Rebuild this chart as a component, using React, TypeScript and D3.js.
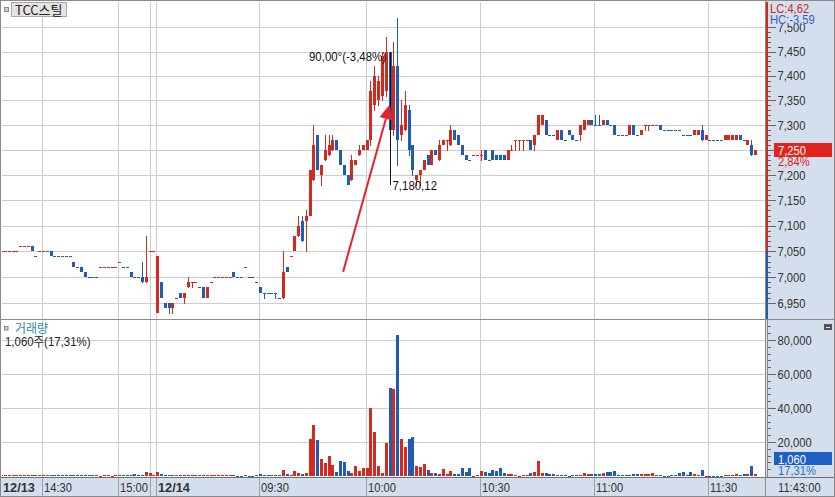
import React from 'react';
import * as d3 from 'd3';

type Bar = [number, number, number, number]; // open, high, low, close

// 1-minute bars: 12/13 afternoon (0-40) then 12/14 morning (41-198)
const candles: Bar[] = [
  [7050, 7050, 7050, 7050], [7050, 7050, 7050, 7050], [7050, 7050, 7050, 7050], [7050, 7050, 7050, 7050], [7050, 7050, 7050, 7050], // 0-4
  [7060, 7060, 7060, 7060], [7060, 7060, 7060, 7060], [7060, 7060, 7060, 7060], // 5-7
  [7060, 7060, 7050, 7050], [7040, 7040, 7040, 7040], // 8-9
  [7050, 7050, 7050, 7050], [7050, 7050, 7050, 7050], [7050, 7050, 7050, 7050], // 10-12
  [7050, 7050, 7040, 7040], // 13
  [7040, 7040, 7040, 7040], [7040, 7040, 7040, 7040], [7040, 7040, 7040, 7040], [7040, 7040, 7040, 7040], [7040, 7040, 7040, 7040], // 14-18
  [7030, 7030, 7020, 7020], [7020, 7020, 7020, 7020], [7020, 7020, 7010, 7010], [7010, 7010, 7000, 7000], // 19-22
  [7000, 7000, 7000, 7000], [7000, 7000, 7000, 7000], [7000, 7000, 7000, 7000], // 23-25
  [7020, 7020, 7020, 7020], [7020, 7020, 7020, 7020], [7020, 7020, 7020, 7020], [7020, 7020, 7020, 7020], [7020, 7020, 7020, 7020], // 26-30
  [7030, 7030, 7030, 7030], [7020, 7020, 7020, 7020], [7020, 7020, 7020, 7020], // 31-33
  [7010, 7010, 7000, 7000], [7000, 7000, 7000, 7000], [7000, 7000, 7000, 7000], // 34-36
  [7000, 7030, 6990, 6990], [6990, 7080, 6990, 7000], // 37-38
  [7050, 7050, 7050, 7050], [7050, 7050, 7050, 7050], // 39-40
  [6930, 7040, 6930, 7040], [6990, 6990, 6960, 6960], [6950, 6950, 6940, 6940], [6950, 6950, 6930, 6940], // 41-44
  [6940, 6950, 6930, 6950], [6960, 6960, 6960, 6960], [6970, 6970, 6960, 6960], [6960, 6970, 6950, 6970], // 45-48
  [6980, 7000, 6980, 6990], [6990, 6990, 6980, 6990], [6990, 6990, 6990, 6990], [6980, 6980, 6980, 6980], // 49-52
  [6980, 6980, 6960, 6960], [6960, 6980, 6960, 6980], [6990, 6990, 6990, 6990], // 53-55
  [7000, 7000, 7000, 7000], [7000, 7000, 7000, 7000], [7000, 7000, 7000, 7000], [7000, 7000, 7000, 7000], [7000, 7000, 7000, 7000], // 56-60
  [7010, 7010, 7000, 7000], [7000, 7000, 7000, 7000], [7000, 7000, 7000, 7000], [7020, 7020, 7020, 7020], // 61-64
  [7000, 7000, 7000, 7000], [7000, 7000, 7000, 7000], [6990, 6990, 6990, 6990], // 65-67
  [6980, 6980, 6970, 6970], [6970, 6970, 6960, 6970], [6970, 6970, 6970, 6970], [6970, 6970, 6970, 6970], // 68-71
  [6970, 6970, 6960, 6970], [6960, 6960, 6960, 6960], // 72-73
  [6960, 7050, 6960, 7010], [7020, 7020, 7010, 7010], [7040, 7040, 7040, 7040], [7050, 7080, 7050, 7080], // 74-77
  [7080, 7120, 7080, 7100], [7110, 7120, 7070, 7070], [7110, 7130, 7050, 7120], [7120, 7210, 7120, 7210], // 78-81
  [7190, 7300, 7190, 7260], [7280, 7280, 7210, 7210], [7200, 7220, 7180, 7220], [7230, 7280, 7230, 7250], // 82-85
  [7240, 7280, 7240, 7260], [7250, 7280, 7250, 7270], [7270, 7270, 7250, 7250], [7250, 7250, 7220, 7220], // 86-89
  [7220, 7220, 7200, 7200], [7200, 7200, 7180, 7180], [7190, 7240, 7190, 7230], [7220, 7230, 7220, 7230], // 90-93
  [7240, 7260, 7240, 7250], [7250, 7260, 7250, 7260], [7250, 7270, 7250, 7270], // 94-96
  [7270, 7390, 7260, 7370], [7340, 7420, 7330, 7400], [7350, 7400, 7340, 7390], [7360, 7450, 7350, 7440], // 97-100
  [7370, 7480, 7360, 7450], [7450, 7450, 7280, 7290], [7290, 7470, 7280, 7420], [7420, 7520, 7220, 7270], // 101-104
  [7280, 7350, 7270, 7300], [7290, 7370, 7290, 7340], [7330, 7340, 7240, 7250], [7260, 7260, 7200, 7210], // 105-108
  [7190, 7200, 7180, 7200], [7200, 7210, 7180, 7210], [7210, 7230, 7210, 7230], [7240, 7240, 7220, 7220], // 109-112
  [7220, 7250, 7220, 7250], [7250, 7250, 7240, 7240], [7230, 7270, 7230, 7260], [7260, 7270, 7260, 7270], // 113-116
  [7270, 7270, 7250, 7270], [7260, 7300, 7260, 7290], [7290, 7290, 7270, 7270], [7280, 7280, 7260, 7260], // 117-120
  [7260, 7260, 7240, 7240], [7240, 7240, 7230, 7230], [7230, 7230, 7230, 7230], [7240, 7240, 7240, 7240], // 121-124
  [7240, 7240, 7240, 7240], [7240, 7250, 7230, 7240], [7250, 7250, 7230, 7230], [7230, 7230, 7230, 7230], // 125-128
  [7250, 7250, 7230, 7230], [7240, 7240, 7230, 7230], [7240, 7240, 7230, 7230], [7240, 7240, 7230, 7230], // 129-132
  [7230, 7250, 7230, 7250], [7250, 7260, 7250, 7250], [7270, 7270, 7250, 7270], [7270, 7270, 7250, 7270], // 133-136
  [7270, 7270, 7250, 7270], [7270, 7270, 7270, 7270], [7270, 7270, 7250, 7250], [7260, 7280, 7250, 7280], // 137-140
  [7280, 7320, 7280, 7320], [7300, 7320, 7300, 7320], [7310, 7310, 7280, 7280], [7280, 7280, 7280, 7280], // 141-144
  [7280, 7280, 7280, 7280], [7270, 7290, 7270, 7290], [7290, 7290, 7270, 7270], [7270, 7270, 7270, 7270], // 145-148
  [7290, 7290, 7280, 7280], [7280, 7280, 7270, 7270], [7270, 7270, 7270, 7270], [7280, 7300, 7270, 7300], // 149-152
  [7290, 7310, 7290, 7310], [7300, 7310, 7300, 7310], [7310, 7310, 7300, 7300], [7300, 7320, 7300, 7300], // 153-156
  [7300, 7320, 7300, 7300], [7300, 7310, 7300, 7310], [7310, 7310, 7300, 7300], [7300, 7300, 7300, 7300], // 157-160
  [7300, 7300, 7280, 7280], [7280, 7280, 7280, 7280], [7280, 7280, 7280, 7280], [7280, 7280, 7280, 7280], // 161-164
  [7280, 7300, 7280, 7300], [7300, 7300, 7280, 7280], [7280, 7280, 7280, 7280], [7280, 7290, 7280, 7290], // 165-168
  [7300, 7300, 7290, 7300], [7300, 7300, 7290, 7300], [7300, 7300, 7300, 7300], [7300, 7300, 7300, 7300], // 169-172
  [7300, 7300, 7290, 7290], [7290, 7290, 7290, 7290], [7290, 7290, 7290, 7290], [7290, 7290, 7290, 7290], // 173-176
  [7290, 7290, 7290, 7290], [7290, 7290, 7290, 7290], [7280, 7280, 7280, 7280], [7280, 7280, 7280, 7280], // 177-180
  [7280, 7280, 7280, 7280], [7280, 7290, 7280, 7290], [7280, 7290, 7280, 7290], [7290, 7300, 7270, 7270], // 181-184
  [7270, 7280, 7270, 7280], [7270, 7270, 7270, 7270], [7270, 7270, 7270, 7270], [7270, 7270, 7270, 7270], // 185-188
  [7270, 7270, 7270, 7270], [7270, 7280, 7270, 7280], [7270, 7280, 7270, 7280], [7270, 7280, 7270, 7280], // 189-192
  [7270, 7280, 7270, 7280], [7280, 7280, 7270, 7270], [7270, 7270, 7270, 7270], [7260, 7270, 7260, 7270], // 193-196
  [7260, 7270, 7240, 7240], [7240, 7250, 7240, 7250], // 197-198
];

const volumes: number[] = [
  500, 300, 300, 400, 300, 600, 300, 300, 700, 400, 300, 300, 300, 800, 300, 300, 300, 300, 300, 600, // 0-19
  300, 500, 600, 300, 300, 300, 200, 300, 300, 200, 300, 300, 300, 300, 400, 1200, 300, 600, 2500, 1500, // 20-39
  300, 2400, 1200, 800, 600, 800, 300, 500, 600, 800, 300, 300, 300, 600, 600, 300, 300, 300, 300, 300, // 40-59
  300, 400, 200, 200, 300, 200, 200, 300, 1200, 300, 300, 300, 300, 300, 3500, 1200, 600, 2900, 1500, 1200, // 60-79
  1800, 22000, 30000, 21000, 10000, 7800, 11700, 6500, 2500, 8800, 8400, 3100, 1800, 6000, 3100, 4500, 4500, 39800, 26000, 6000, // 80-99
  2000, 19600, 51600, 51000, 83000, 21800, 16900, 21800, 22700, 5900, 5500, 7100, 3500, 1600, 1600, 1200, 4100, 1200, 2900, 1200, // 100-119
  1200, 4500, 2500, 4500, 200, 600, 2900, 2500, 2000, 3500, 2900, 4500, 1600, 1200, 1200, 800, 200, 800, 600, 1600, // 120-139
  2500, 8800, 1600, 1600, 1200, 1000, 600, 400, 400, 200, 600, 800, 600, 1600, 1000, 1200, 1200, 1000, 1800, 2500, // 140-159
  2500, 2900, 600, 400, 400, 800, 1000, 1200, 1200, 1000, 1000, 1600, 600, 400, 200, 200, 400, 400, 1800, 2200, // 160-179
  600, 2200, 1200, 600, 3500, 200, 200, 200, 200, 200, 400, 400, 600, 1200, 600, 1000, 1200, 5900, 1060, // 180-198
];

const priceTicks = [6950, 7000, 7050, 7100, 7150, 7200, 7250, 7300, 7350, 7400, 7450, 7500];
const volumeTicks = [20000, 40000, 60000, 80000];
const timeTickLabels = ['14:30', '15:00', '09:30', '10:00', '10:30', '11:00', '11:30'];
const timeTickBars = [11, 31, 68, 96, 126, 156, 186];
const dateTickLabels = ['12/13', '12/14'];
const dateTickBars = [0, 41];
const sessionBreakBar = 39;
const prevClose = 7050;
const lastPrice = 7250;
const lastPriceChange = '2,84%';
const lastVolumeLabel = '1,060';
const lastVolumeRatio = '17,31%';
const lcText = 'LC:4,62';
const hcText = 'HC:-3,59';
const endTimeLabel = '11:43:00';
const titleText = 'TCC스틸';
const volumeTitle = '거래량';
const volumeInfo = '1,060주(17,31%)';
const angleLabel = '90,00°(-3,48%)';
const angleBar = 102;
const angleFromPrice = 7450;
const angleToPrice = 7180.12;
const angleToLabel = '7,180,12';
const arrowFrom = { bar: 89.7, price: 7010 };
const arrowTo = { bar: 102, price: 7342 };

const FONT = "'Liberation Sans', 'Noto Sans CJK KR', Arial, sans-serif";
const KFONT = "'Noto Sans CJK KR', 'Liberation Sans', sans-serif";
const RED = '#d22a1f';
const BLUE = '#1f5cb6';
const BG = '#d5deec';
const GRID = '#cdcdcd';
const BORDER = '#8a8a8a';

function Txt(props: any) {
  const { x, y, children, size = 13, sx = 0.86, fill = '#333', anchor = 'start', weight = 'normal', family = FONT } = props;
  return (
    <text
      transform={`translate(${x},${y}) scale(${sx},1)`}
      fontSize={size}
      fill={fill}
      textAnchor={anchor}
      fontWeight={weight}
      fontFamily={family}
    >
      {children}
    </text>
  );
}

export default function App() {
  const W = 835, H = 497;
  const plotL = 2, plotR = 765;
  const priceTop = 2, priceBot = 319;
  const volTop = 320, volBot = 477;
  const axisX = 766;

  const x = d3.scaleLinear().domain([0, candles.length - 1]).range([1.5, 755.5]);
  const y = d3.scaleLog().domain([6950, 7500]).range([303, 27.3]);
  const yv = d3.scaleLinear().domain([0, 80000]).range([476, 340]);
  const fmt = d3.format(',');

  // candle colours: up red, down blue, unchanged follows previous close
  const colors: string[] = [];
  let prevDir = 1;
  candles.forEach(([o, , , c], i) => {
    let d = c > o ? 1 : c < o ? -1 : 0;
    if (d === 0) {
      if (i > 0) {
        const pc = candles[i - 1][3];
        d = c > pc ? 1 : c < pc ? -1 : prevDir;
      } else d = 1;
    }
    prevDir = d;
    colors.push(d > 0 ? RED : BLUE);
  });

  const gridXs = [
    ...timeTickBars.map((b) => Math.round(x(b) - 1.4) + 0.5),
    Math.round(x(dateTickBars[1]) - 1.4) + 0.5,
    Math.round(x(sessionBreakBar)) + 0.5,
  ];

  const minorPrice = d3.range(6950, 7501, 10);
  const minorVol = d3.range(4000, 88001, 4000);

  const ax1 = x(arrowFrom.bar), ay1 = y(arrowFrom.price);
  const ax2 = x(arrowTo.bar), ay2 = y(arrowTo.price);
  const alen = Math.hypot(ax2 - ax1, ay2 - ay1);
  const ux = (ax2 - ax1) / alen, uy = (ay2 - ay1) / alen;
  const headL = 15, headW = 6.5;
  const bx = ax2 - ux * headL, by = ay2 - uy * headL;
  const head = `${ax2},${ay2} ${bx - uy * headW},${by + ux * headW} ${bx + uy * headW},${by - ux * headW}`;

  const angleX = Math.round(x(angleBar)) + 0.5;
  const prevCloseY = y(prevClose);
  const lastY = y(lastPrice);

  return (
    <div style={{ position: 'absolute', left: 0, top: 0, width: W, height: H }}>
      <svg width={W} height={H} style={{ display: 'block' }}>
        <defs>
          <clipPath id="pclip"><rect x={plotL} y={priceTop} width={plotR - plotL} height={priceBot - priceTop} /></clipPath>
          <clipPath id="vclip"><rect x={plotL} y={volTop} width={plotR - plotL} height={volBot - volTop} /></clipPath>
        </defs>
        <rect width={W} height={H} fill="#fff" />

        {/* grid */}
        <g shapeRendering="crispEdges">
          {priceTicks.map((p) => (
            <line key={'hp' + p} x1={plotL} x2={plotR} y1={Math.round(y(p)) + 0.5} y2={Math.round(y(p)) + 0.5} stroke={GRID} />
          ))}
          {volumeTicks.map((v) => (
            <line key={'hv' + v} x1={plotL} x2={plotR} y1={Math.round(yv(v)) + 0.5} y2={Math.round(yv(v)) + 0.5} stroke={GRID} />
          ))}
          {gridXs.map((gx, i) => (
            <line key={'gx' + i} x1={gx} x2={gx} y1={priceTop} y2={H} stroke={GRID} />
          ))}
        </g>

        {/* candles */}
        <g clipPath="url(#pclip)" shapeRendering="crispEdges">
          {candles.map(([o, h, l, c], i) => {
            const rx = Math.round(x(i) - 1.4);
            const top = Math.round(y(Math.max(o, c)));
            const bot = Math.round(y(Math.min(o, c)));
            const col = colors[i];
            const hasWick = h > Math.max(o, c) || l < Math.min(o, c);
            return (
              <g key={i}>
                {hasWick && (
                  <line x1={rx + 1.5} x2={rx + 1.5} y1={Math.round(y(h))} y2={Math.round(y(l)) + 1} stroke={col} />
                )}
                <rect x={rx} y={top} width={3} height={Math.max(1, bot - top)} fill={col} />
              </g>
            );
          })}
        </g>

        {/* volume bars */}
        <g clipPath="url(#vclip)" shapeRendering="crispEdges">
          {volumes.map((v, i) => {
            const rx = Math.round(x(i) - 1.4);
            const top = Math.round(yv(v));
            return <rect key={i} x={rx} y={top} width={3} height={Math.max(1, 476 - top)} fill={colors[i]} />;
          })}
        </g>

        {/* annotations */}
        <line x1={angleX} x2={angleX} y1={y(angleFromPrice)} y2={y(angleToPrice)} stroke="#111" strokeWidth={1} shapeRendering="crispEdges" />
        <Txt x={angleX - 4.5} y={y(angleFromPrice) + 9} anchor="end" fill="#111" sx={0.88}>{angleLabel}</Txt>
        <Txt x={angleX + 2} y={y(angleToPrice) + 4.5} fill="#111" sx={0.88}>{angleToLabel}</Txt>
        <line x1={ax1} y1={ay1} x2={bx} y2={by} stroke="#e8222a" strokeWidth={2} />
        <polygon points={head} fill="#e8222a" />

        {/* legends */}
        <rect x={4.5} y={7.5} width={4} height={4} fill="#d0d0d0" stroke="#8a8a8a" />
        <rect x={11.5} y={2.5} width={55} height={14} fill="#e4e4e4" stroke="#a8a8a8" />
        <text x={15} y={14.5} fontSize={13} fontFamily={KFONT} fill="#222">{titleText}</text>
        <rect x={4.5} y={326.5} width={3.5} height={3.5} fill="#d0d0d0" stroke="#8a8a8a" />
        <text x={15} y={333} fontSize={12} fontFamily={KFONT} fill="#2e8c9a">{volumeTitle}</text>
        <Txt x={5} y={346} sx={0.88} fill="#222">{volumeInfo}</Txt>

        {/* right axis panel */}
        <rect x={axisX} y={0} width={W - axisX} height={volBot} fill={BG} />
        <rect x={0} y={volBot + 1} width={W} height={H - volBot - 1} fill={BG} />

        <g shapeRendering="crispEdges">
          {minorPrice.map((p) => (
            <line key={'mp' + p} x1={768} x2={p % 50 === 0 ? 776 : 771} y1={Math.round(y(p)) + 0.5} y2={Math.round(y(p)) + 0.5} stroke="#666" />
          ))}
          {minorVol.map((v) => (
            <line key={'mv' + v} x1={768} x2={v % 20000 === 0 ? 776 : 771} y1={Math.round(yv(v)) + 0.5} y2={Math.round(yv(v)) + 0.5} stroke="#666" />
          ))}
          <rect x={766} y={priceTop} width={2} height={prevCloseY - priceTop} fill={RED} />
          <rect x={766} y={prevCloseY} width={2} height={priceBot - prevCloseY} fill={BLUE} />
          <line x1={767.5} x2={767.5} y1={volTop} y2={volBot} stroke="#8a8a8a" />
        </g>

        {priceTicks.map((p) => (
          <Txt key={'tp' + p} x={777.5} y={y(p) + 4.6}>{fmt(p)}</Txt>
        ))}
        {volumeTicks.map((v) => (
          <Txt key={'tv' + v} x={777.5} y={yv(v) + 4.6}>{fmt(v)}</Txt>
        ))}

        <rect x={769} y={2} width={W - 770} height={22} fill={BG} />
        <Txt x={770} y={12.5} fill="#c8281e">{lcText}</Txt>
        <Txt x={770} y={23.5} fill="#2a66be">{hcText}</Txt>

        <rect x={774} y={Math.round(lastY) - 7} width={58} height={14} fill="#e0241b" />
        <Txt x={778} y={lastY + 5} fill="#fff">{fmt(lastPrice)}</Txt>
        <Txt x={778} y={lastY + 16} fill="#d4281e">{lastPriceChange}</Txt>

        <rect x={774} y={452} width={58} height={13} fill="#1e5fc4" />
        <Txt x={778} y={463.5} fill="#fff">{lastVolumeLabel}</Txt>
        <Txt x={778} y={475} fill="#2d6ccc">{lastVolumeRatio}</Txt>

        <rect x={824} y={324} width={8} height={6} fill="#555" />
        <line x1={826} x2={830} y1={327.5} y2={327.5} stroke="#ddd" />

        {/* time axis strip */}
        <g shapeRendering="crispEdges">
          {gridXs.slice(0, timeTickBars.length + 1).map((gx, i) => (
            <line key={'sx' + i} x1={gx} x2={gx} y1={volBot} y2={H} stroke="#9aa3b0" />
          ))}
          <line x1={Math.round(x(sessionBreakBar)) + 0.5} x2={Math.round(x(sessionBreakBar)) + 0.5} y1={volBot} y2={H} stroke="#9aa3b0" />
          <line x1={0} x2={W} y1={volBot + 0.5} y2={volBot + 0.5} stroke="#707070" />
          <line x1={0} x2={W} y1={319.5} y2={319.5} stroke={BORDER} />
          <line x1={765.5} x2={765.5} y1={0} y2={H} stroke={BORDER} />
          <rect x={0.5} y={0.5} width={W - 1} height={H - 1} fill="none" stroke={BORDER} />
        </g>

        {dateTickLabels.map((d, i) => (
          <Txt key={'d' + d} x={i === 0 ? 3 : Math.round(x(dateTickBars[i]) - 1.4) + 2} y={492} weight="bold" sx={0.98} fill="#333">{d}</Txt>
        ))}
        {timeTickLabels.map((t, i) => (
          <Txt key={'t' + t} x={Math.round(x(timeTickBars[i]) - 1.4) + 2} y={492}>{t}</Txt>
        ))}
        <Txt x={778} y={492}>{endTimeLabel}</Txt>
      </svg>
    </div>
  );
}
